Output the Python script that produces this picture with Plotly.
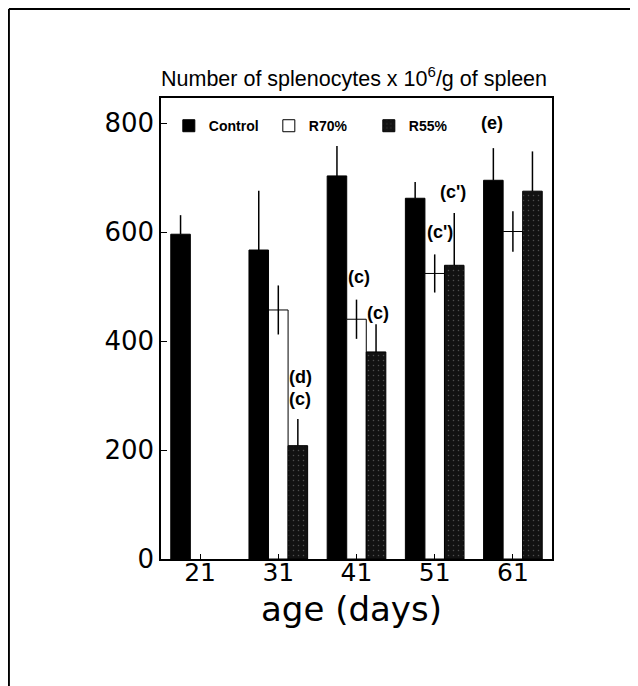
import plotly.graph_objects as go

ages = ["21", "31", "41", "51", "61"]
control = [596, 567, 703, 662, 695]
control_err = [35, 109, 55, 30, 59]
r70 = [None, 457, 440, 524, 601]
r70_err = [None, 45, 36, 35, 37]
r55 = [None, 208, 380, 539, 675]
r55_err = [None, 49, 51, 96, 73]

notes_text = ["(e)", "(c')", "(c')", "(c)", "(c)", "(d)", "(c)"]
notes_x = [3.73, 3.23, 3.07, 2.03, 2.28, 1.28, 1.28]
notes_y = [800, 673, 600, 517, 451, 334, 293]

fig = go.Figure()
fig.add_trace(go.Bar(
    x=ages, y=control, name="<b>Control</b>",
    marker=dict(color="black", line=dict(color="black", width=1)),
    error_y=dict(type="data", symmetric=False, array=control_err,
                 arrayminus=[0] * 5, width=0, thickness=1.5, color="black"),
))
fig.add_trace(go.Bar(
    x=ages, y=r70, name="<b>R70%</b>",
    marker=dict(color="white", line=dict(color="black", width=1)),
    error_y=dict(type="data", symmetric=True, array=r70_err,
                 width=0, thickness=1.5, color="black"),
))
fig.add_trace(go.Bar(
    x=ages, y=r55, name="<b>R55%</b>",
    marker=dict(color="#121212", line=dict(color="black", width=1),
                pattern=dict(shape=".", bgcolor="#121212", fgcolor="#8a8a8a",
                             size=5, solidity=0.07)),
    error_y=dict(type="data", symmetric=False, array=r55_err,
                 arrayminus=[0] * 5, width=0, thickness=1.5, color="black"),
))

for t, x, y in zip(notes_text, notes_x, notes_y):
    fig.add_annotation(x=x, y=y, text=f"<b>{t}</b>", showarrow=False,
                       xref="x", yref="y", yanchor="middle",
                       font=dict(family="Liberation Sans, Arial", size=18, color="black"))

fig.add_annotation(x=0.494, y=1.046, xref="paper", yref="paper",
                   xanchor="center", yanchor="middle",
                   text="Number of splenocytes x 10<sup>6</sup>/g of spleen",
                   showarrow=False,
                   font=dict(family="Liberation Sans, Arial", size=21.5, color="black"))

fig.add_annotation(x=0.488, y=-0.108, xref="paper", yref="paper",
                   xanchor="center", yanchor="middle",
                   text="age (days)", showarrow=False,
                   font=dict(family="DejaVu Sans", size=34, color="black"))

# outer frame (top and left edges visible in the reference)
fig.add_shape(type="line", xref="paper", yref="paper",
              x0=-0.389, x1=1.3, y0=1.193, y1=1.193,
              line=dict(color="black", width=2))
fig.add_shape(type="line", xref="paper", yref="paper",
              x0=-0.389, x1=-0.389, y0=-0.35, y1=1.193,
              line=dict(color="black", width=2))

fig.update_layout(
    width=638, height=686,
    margin=dict(l=153, r=94, t=90, b=135),
    paper_bgcolor="white", plot_bgcolor="white",
    barmode="group", bargap=0.25, bargroupgap=0,
    showlegend=True,
    legend=dict(orientation="h", x=0.02, y=0.939, yanchor="middle", xanchor="left",
                font=dict(family="Liberation Sans, Arial", size=14, color="black"),
                bgcolor="rgba(0,0,0,0)", entrywidth=55, entrywidthmode="pixels",
                traceorder="normal"),
    xaxis=dict(
        type="category", range=[-0.5, 4.5],
        showline=True, linecolor="black", linewidth=1.5, mirror=True,
        ticks="inside", ticklen=5, tickcolor="black",
        ticklabelstandoff=-10,
        tickfont=dict(family="DejaVu Sans", size=25, color="black"),
        showgrid=False, zeroline=False,
    ),
    yaxis=dict(
        range=[0, 846], tickvals=[0, 200, 400, 600, 800],
        showline=True, linecolor="black", linewidth=1.5, mirror=True,
        ticks="inside", ticklen=6, tickcolor="black",
        tickfont=dict(family="DejaVu Sans", size=26, color="black"),
        showgrid=False, zeroline=False,
    ),
)

fig.write_html("out.html")
